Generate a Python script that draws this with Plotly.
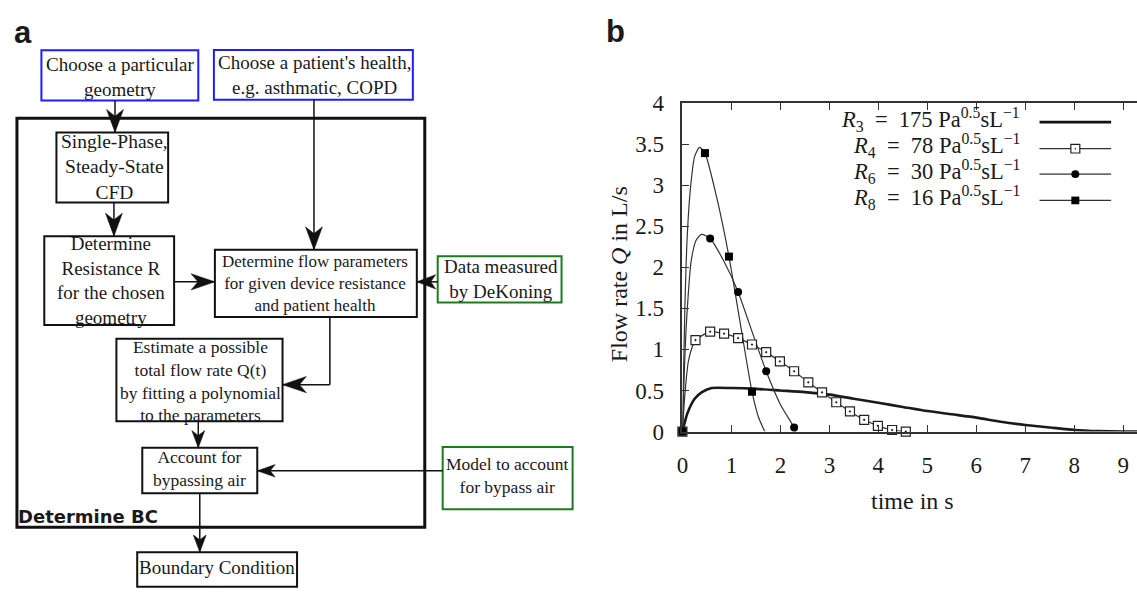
import plotly.graph_objects as go

W, H = 1137, 594

# ---------------- data (panel b) ----------------
t_R3 = [0, 0.1, 0.25, 0.4, 0.6, 1.0, 1.5, 2.0, 2.5, 3.0, 3.5, 4.0, 4.5, 5.0, 5.5, 6.0, 6.5, 7.0, 7.5, 8.0, 8.5, 9.0, 9.3]
q_R3 = [0, 0.22, 0.40, 0.48, 0.53, 0.53, 0.52, 0.50, 0.48, 0.45, 0.40, 0.35, 0.30, 0.25, 0.21, 0.17, 0.12, 0.08, 0.05, 0.02, 0.006, 0.0, 0.0]

t_R4 = [0, 0.05, 0.12, 0.2, 0.267, 0.566, 0.851, 1.137, 1.42, 1.71, 1.99, 2.28, 2.57, 2.85, 3.14, 3.42, 3.71, 3.99, 4.28, 4.56]
q_R4 = [0, 0.45, 0.85, 1.03, 1.114, 1.216, 1.192, 1.138, 1.06, 0.967, 0.854, 0.734, 0.60, 0.478, 0.357, 0.245, 0.143, 0.07, 0.019, 0.0]
t_R4_mk = [0, 0.267, 0.566, 0.851, 1.137, 1.42, 1.71, 1.99, 2.28, 2.57, 2.85, 3.14, 3.42, 3.71, 3.99, 4.28, 4.56]
q_R4_mk = [0, 1.114, 1.216, 1.192, 1.138, 1.06, 0.967, 0.854, 0.734, 0.60, 0.478, 0.357, 0.245, 0.143, 0.07, 0.019, 0.0]

t_R6 = [0, 0.04, 0.08, 0.18, 0.28, 0.39, 0.566, 0.85, 1.137, 1.42, 1.71, 2.0, 2.28, 2.32]
q_R6 = [0, 0.75, 1.30, 2.08, 2.33, 2.40, 2.35, 2.07, 1.70, 1.22, 0.734, 0.33, 0.05, 0.0]
t_R6_mk = [0, 0.566, 1.137, 1.71, 2.28]
q_R6_mk = [0, 2.35, 1.70, 0.734, 0.05]

t_R8 = [0, 0.05, 0.1, 0.17, 0.25, 0.35, 0.46, 0.7, 0.95, 1.2, 1.42, 1.55, 1.68]
q_R8 = [0, 1.5, 2.4, 3.0, 3.35, 3.46, 3.39, 2.85, 2.13, 1.25, 0.485, 0.18, 0.0]
t_R8_mk = [0, 0.46, 0.95, 1.42]
q_R8_mk = [0, 3.39, 2.13, 0.485]

legend_labels = [
    "<i>R</i><sub>3</sub>\u00a0 = \u00a0175 Pa<sup>0.5</sup>sL<sup>\u22121</sup>",
    "<i>R</i><sub>4</sub>\u00a0 = \u00a078 Pa<sup>0.5</sup>sL<sup>\u22121</sup>",
    "<i>R</i><sub>6</sub>\u00a0 = \u00a030 Pa<sup>0.5</sup>sL<sup>\u22121</sup>",
    "<i>R</i><sub>8</sub>\u00a0 = \u00a016 Pa<sup>0.5</sup>sL<sup>\u22121</sup>",
]
x_ticks = [0, 1, 2, 3, 4, 5, 6, 7, 8, 9]
x_title = "time in s"
y_title = "Flow rate <i>Q</i> in L/s"

SERIF = "Liberation Serif"
INK = "#1a1a1a"

def X(px):
    return px / W

def Y(py):
    return 1 - py / H

fig = go.Figure()
fig.add_trace(go.Scatter(x=t_R3, y=q_R3, mode="lines", line=dict(color=INK, width=2.6, shape="spline", smoothing=0.6),
                         showlegend=False, cliponaxis=False))
fig.add_trace(go.Scatter(x=t_R4, y=q_R4, mode="lines", line=dict(color="#333", width=1.2, shape="spline", smoothing=0.6),
                         showlegend=False))
fig.add_trace(go.Scatter(x=t_R6, y=q_R6, mode="lines", line=dict(color="#333", width=1.2, shape="spline", smoothing=0.6),
                         showlegend=False))
fig.add_trace(go.Scatter(x=t_R8, y=q_R8, mode="lines", line=dict(color="#333", width=1.2, shape="spline", smoothing=0.6),
                         showlegend=False))
fig.add_trace(go.Scatter(x=t_R4_mk, y=q_R4_mk, mode="markers", cliponaxis=False, showlegend=False,
                         marker=dict(symbol="square-dot", size=9, color="white", line=dict(color="#222", width=1.2))))
fig.add_trace(go.Scatter(x=t_R6_mk, y=q_R6_mk, mode="markers", cliponaxis=False, showlegend=False,
                         marker=dict(symbol="circle", size=8, color="black")))
fig.add_trace(go.Scatter(x=t_R8_mk, y=q_R8_mk, mode="markers", cliponaxis=False, showlegend=False,
                         marker=dict(symbol="square", size=8, color="black")))

x0_px, unit_x = 680, 49.25
fig.update_layout(
    width=W, height=H, margin=dict(l=0, r=0, t=0, b=0),
    paper_bgcolor="white", plot_bgcolor="white",
    xaxis=dict(domain=[X(x0_px), 1], range=[0, (W - x0_px) / unit_x], tickvals=x_ticks,
               ticks="inside", ticklen=7, tickwidth=1.2, tickcolor="#333",
               showline=True, linewidth=1.6, linecolor="#333", mirror="ticks",
               showgrid=False, zeroline=False, ticklabelstandoff=12,
               tickfont=dict(family=SERIF, size=23, color=INK)),
    yaxis=dict(domain=[Y(438), Y(95)], range=[0, 4], dtick=0.5,
               ticks="inside", ticklen=7, tickwidth=1.2, tickcolor="#333",
               showline=True, linewidth=1.6, linecolor="#333", mirror=False,
               showgrid=False, zeroline=False, ticklabelstandoff=12,
               tickfont=dict(family=SERIF, size=23, color=INK)),
)

shapes = []
ann = []

def text(x, y, s, size=18, family=SERIF, color=INK, xanchor="center", angle=0):
    ann.append(dict(x=X(x), y=Y(y), xref="paper", yref="paper", text=s, showarrow=False,
                    xanchor=xanchor, yanchor="middle", align="center", textangle=angle,
                    font=dict(family=family, size=size, color=color)))

def rect(x1, y1, x2, y2, color="#111", width=2):
    shapes.append(dict(type="rect", xref="paper", yref="paper", x0=X(x1), x1=X(x2), y0=Y(y1), y1=Y(y2),
                       line=dict(color=color, width=width), fillcolor="rgba(0,0,0,0)"))

def seg(x1, y1, x2, y2, width=1.5, color="#111"):
    shapes.append(dict(type="line", xref="paper", yref="paper", x0=X(x1), x1=X(x2), y0=Y(y1), y1=Y(y2),
                       line=dict(color=color, width=width)))

def head(tx, ty, dx, dy, L=24, Wd=8.5, notch=7):
    bx, by = tx - dx * L, ty - dy * L
    pxv, pyv = -dy, dx
    pts = [(tx, ty), (bx + pxv * Wd, by + pyv * Wd), (tx - dx * (L - notch), ty - dy * (L - notch)),
           (bx - pxv * Wd, by - pyv * Wd)]
    path = "M" + " L".join(f"{X(a):.5f},{Y(b):.5f}" for a, b in pts) + " Z"
    shapes.append(dict(type="path", xref="paper", yref="paper", path=path,
                       fillcolor="#111", line=dict(color="#111", width=0.5)))

def arrow(pts, **kw):
    for (a, b), (c, d) in zip(pts[:-1], pts[1:]):
        seg(a, b, c, d)
    (a, b), (c, d) = pts[-2], pts[-1]
    n = ((c - a) ** 2 + (d - b) ** 2) ** 0.5
    head(c, d, (c - a) / n, (d - b) / n, **kw)

BLUE = "#1d1dff"
GREEN = "#1e7a1e"

# outer box
rect(11, 111, 421, 538, width=3)
# boxes
rect(35.6, 40, 193.3, 92.3, color=BLUE)
rect(209, 39.7, 409, 91.7, color=BLUE)
rect(50.7, 125.7, 163, 199)
rect(38.5, 234, 169, 326.7)
rect(210, 248.3, 413, 318.3)
rect(434, 255, 558.5, 303.3, color=GREEN)
rect(111, 341, 278, 427.3)
rect(137, 455, 252.6, 502.3)
rect(439, 454, 569.6, 519, color=GREEN)
rect(131.9, 564, 292.6, 600)

# arrows
arrow([(109.6, 92.3), (109.6, 125.7)])
arrow([(108.5, 199), (108.5, 234)])
arrow([(309.6, 91.7), (309.6, 248.3)])
arrow([(169, 281.7), (210, 281.7)])
arrow([(434, 281.7), (413, 281.7)], L=19, Wd=7.5, notch=5)
arrow([(325.6, 318.3), (325.6, 389), (278, 389)])
arrow([(193.3, 427.3), (193.3, 455)], L=18, Wd=6.5, notch=5)
arrow([(439, 479), (252.6, 479)], L=18, Wd=6.5, notch=5)
arrow([(194.8, 502.3), (194.8, 564)], L=18, Wd=6.5, notch=5)

# box texts
text(114.5, 67.5, "Choose a particular<br>geometry", size=19)
text(310.6, 65.3, "Choose a patient's health,<br>e.g. asthmatic, COPD", size=19)
text(109, 162, "Single-Phase,<br>Steady-State<br>CFD", size=19.5)
text(106, 280, "Determine<br>Resistance R<br>for the chosen<br>geometry", size=19)
text(310.5, 283, "Determine flow parameters<br>for given device resistance<br>and patient health", size=17)
text(497.6, 278.3, "Data measured<br>by DeKoning", size=19)
text(195.8, 385.3, "Estimate a possible<br>total flow rate Q(t)<br>by fitting a polynomial<br>to the parameters", size=17.5)
text(194.5, 477, "Account for<br>bypassing air", size=17.5)
text(504, 483.5, "Model to account<br>for bypass air", size=17.5)
text(212.5, 580, "Boundary Condition", size=19)
text(10, 527, "<b>Determine BC</b>", size=18, family="DejaVu Sans", xanchor="left")

# panel labels
text(17, 21, "<b>a</b>", size=31, family="Liberation Sans")
text(613, 20, "<b>b</b>", size=31, family="Liberation Sans")

# axis titles
text(617, 274, y_title, size=24, angle=-90)
text(911, 510, x_title, size=24)

# manual legend (text left, sample right)
rows_y = [115, 142.7, 169.3, 196.7]
for lab, ry in zip(legend_labels, rows_y):
    text(1021, ry - 3, lab, size=22.5, xanchor="right")
seg(1039, rows_y[0], 1111, rows_y[0], width=2.6)
for ry in rows_y[1:]:
    seg(1039, ry, 1111, ry, width=1.2, color="#333")
# legend symbols
rect(1070.5, rows_y[1] - 4.5, 1079.5, rows_y[1] + 4.5, color="#222", width=1.2)
shapes[-1]["fillcolor"] = "white"
shapes.append(dict(type="circle", xref="paper", yref="paper", x0=X(1074.2), x1=X(1075.8), y0=Y(rows_y[1] - 0.8),
                   y1=Y(rows_y[1] + 0.8), fillcolor="#222", line=dict(width=0)))
shapes.append(dict(type="circle", xref="paper", yref="paper", x0=X(1071), x1=X(1079), y0=Y(rows_y[2] - 4),
                   y1=Y(rows_y[2] + 4), fillcolor="black", line=dict(width=0)))
shapes.append(dict(type="rect", xref="paper", yref="paper", x0=X(1071), x1=X(1079), y0=Y(rows_y[3] - 4),
                   y1=Y(rows_y[3] + 4), fillcolor="black", line=dict(width=0)))

fig.update_layout(shapes=shapes, annotations=ann)
fig.write_html("out.html")
